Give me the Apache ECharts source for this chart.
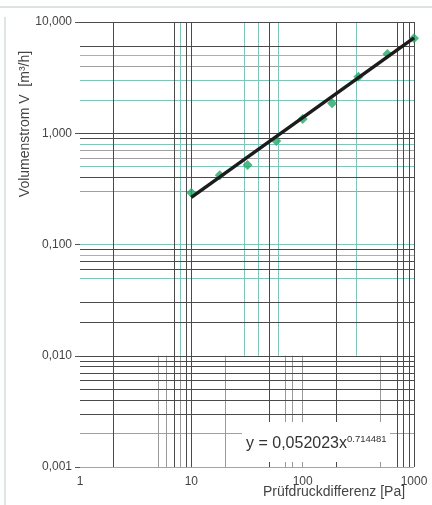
<!DOCTYPE html>
<html>
<head>
<meta charset="utf-8">
<script src="https://cdn.jsdelivr.net/npm/echarts@6/dist/echarts.min.js"></script>
<style>
  html, body { margin: 0; padding: 0; background: #fff; }
  #chart { width: 432px; height: 505px; }
</style>
</head>
<body>
<div id="chart"></div>
<script>
// Messwerte: Pruefdruckdifferenz [Pa] / Volumenstrom [m3/h]
var pressure = [10, 18, 32, 58, 100, 184, 317, 577, 1000];
var flow = [0.292, 0.42, 0.519, 0.851, 1.34, 1.86, 3.22, 5.15, 7.13];

// Ausgleichsgerade (Potenzfunktion), Endpunkte
var trendX = [10, 1000];
var trendY = [0.265, 7.2];

// Gitterlinien (wie im Original, unregelmaessig)
var hDark = [10, 6, 1, 0.9, 0.4, 0.09, 0.07, 0.06, 0.03, 0.02, 0.01, 0.009, 0.008, 0.007, 0.006, 0.005, 0.004, 0.003, 0.001];
var hTeal = [5, 3, 2, 0.8, 0.5, 0.1, 0.08, 0.05];
var hGray = [4, 0.7, 0.6, 0.3, 0.002];
var vDarkUp = [2, 7, 9, 10, 50, 200, 700, 800, 900, 1000];
var vTealUp = [8, 30, 40, 60, 300];
var vGrayLow = [2, 5, 6, 7, 8, 9, 10, 20, 50, 70, 80, 100, 200, 500, 700, 800, 900, 1000];

var formulaText = 'y = 0,052023x';
var formulaExp = '0.714481';

var chart = echarts.init(document.getElementById('chart'));

function hLines(vals) {
    return vals.map(function (v) { return { coords: [[1, v], [1000, v]] }; });
}
function vLines(vals, y0, y1) {
    return vals.map(function (v) { return { coords: [[v, y0], [v, y1]] }; });
}
function gridSeries(data, color, width) {
    return {
        type: 'lines',
        coordinateSystem: 'cartesian2d',
        silent: true,
        z: 1,
        lineStyle: { color: color, width: width, opacity: 1 },
        data: data
    };
}

var points = pressure.map(function (p, i) { return [p, flow[i]]; });
var trend = trendX.map(function (x, i) { return [x, trendY[i]]; });

var option = {
    animation: false,
    grid: { left: 80, right: 18, top: 22, bottom: 38 },
    xAxis: {
        type: 'log',
        logBase: 10,
        min: 1,
        max: 1000,
        axisLine: { show: false },
        axisTick: { show: false },
        splitLine: { show: false },
        axisLabel: {
            margin: 9,
            color: '#444',
            fontSize: 12,
            fontFamily: 'Liberation Sans',
            formatter: function (v) { return String(Math.round(v)); }
        }
    },
    yAxis: {
        type: 'log',
        logBase: 10,
        min: 0.001,
        max: 10,
        axisLine: { show: false },
        axisTick: { show: true, length: 5, lineStyle: { color: '#555' } },
        splitLine: { show: false },
        axisLabel: {
            margin: 8,
            color: '#444',
            fontSize: 12,
            fontFamily: 'Liberation Sans',
            formatter: function (v) { return v.toFixed(3).replace('.', ','); }
        }
    },
    series: [
        gridSeries(hLines(hGray), '#a0a0a0', 1),
        gridSeries(vLines(vGrayLow, 0.001, 0.01), '#999', 1),
        gridSeries(hLines(hTeal), '#7fc6ba', 1),
        gridSeries(vLines(vTealUp, 0.01, 10), '#7fc6ba', 1),
        gridSeries(hLines(hDark), '#4a4a4a', 1),
        gridSeries(vLines(vDarkUp, 0.001, 10), '#4a4a4a', 1),
        {
            name: 'Messwerte',
            type: 'scatter',
            z: 3,
            clip: false,
            symbol: 'diamond',
            symbolSize: 10,
            itemStyle: { color: '#22a866' },
            data: points
        },
        {
            name: 'Trend',
            type: 'line',
            z: 4,
            symbol: 'none',
            lineStyle: { color: '#1c1c1c', width: 3.5 },
            data: trend
        }
    ],
    graphic: [
        { type: 'line', silent: true, shape: { x1: 0, y1: 7, x2: 432, y2: 7 }, style: { stroke: '#d2d8d8', lineWidth: 1.5 } },
        { type: 'line', silent: true, shape: { x1: 5, y1: 17, x2: 5, y2: 505 }, style: { stroke: '#d2dcdc', lineWidth: 1.5 } },
        {
            type: 'text',
            x: 25,
            y: 124,
            rotation: Math.PI / 2,
            style: {
                text: 'Volumenstrom V  [m³/h]',
                fill: '#444',
                font: '14px "Liberation Sans"',
                align: 'center',
                verticalAlign: 'middle'
            }
        },
        {
            type: 'text',
            x: 334,
            y: 492,
            style: {
                text: 'Prüfdruckdifferenz [Pa]',
                fill: '#444',
                font: '14px "Liberation Sans"',
                align: 'center',
                verticalAlign: 'middle'
            }
        },
        {
            type: 'rect',
            z: 10,
            shape: { x: 242, y: 422, width: 148, height: 40 },
            style: { fill: '#fff' }
        },
        {
            type: 'text',
            z: 11,
            x: 246,
            y: 444,
            style: {
                text: '{a|' + formulaText + '}{b|' + formulaExp + '}',
                verticalAlign: 'middle',
                rich: {
                    a: { fontSize: 16, fontFamily: 'Liberation Sans', fill: '#333', lineHeight: 20 },
                    b: { fontSize: 9.5, fontFamily: 'Liberation Sans', fill: '#333', lineHeight: 12, verticalAlign: 'top', padding: [0, 0, 6, 0] }
                }
            }
        }
    ]
};

chart.setOption(option);
</script>
</body>
</html>
